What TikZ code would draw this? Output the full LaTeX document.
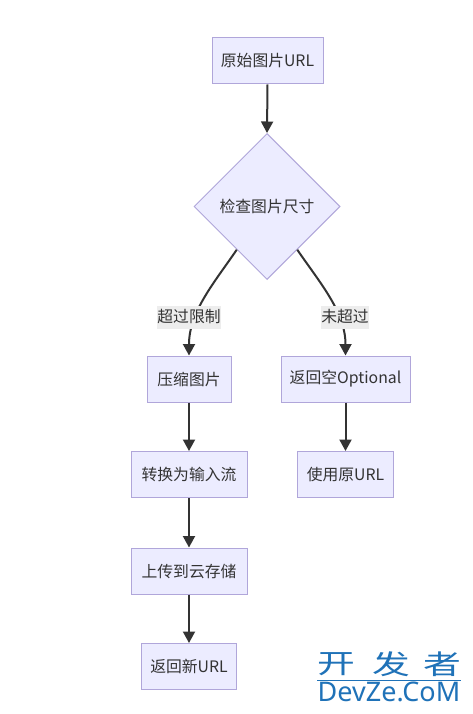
\documentclass[tikz,border=0pt]{standalone}
\usepackage{fontspec}
\setmainfont{Noto Sans CJK SC}
\newfontfamily\wmfont{Noto Sans}
\usetikzlibrary{shapes.geometric,arrows.meta}
\definecolor{nodefill}{HTML}{ECECFF}
\definecolor{nodeline}{HTML}{B0A6DA}
\definecolor{ink}{HTML}{333333}
\definecolor{labelbg}{HTML}{EDEDED}
\definecolor{wmblue}{HTML}{1F72B8}
\tikzset{
  flowbox/.style={draw=nodeline,fill=nodefill,line width=1pt,text=ink,inner sep=0pt,font=\fontsize{15.8}{17}\selectfont,minimum height=46pt},
  flowdia/.style={flowbox,shape=diamond,aspect=1,minimum width=146pt,minimum height=146pt},
  conn/.style={draw=ink,line width=2pt,-{Triangle[length=11.5pt,width=12pt]}},
  edgelabel/.style={fill=labelbg,text=ink,inner sep=0pt,minimum height=23pt,font=\fontsize{15.8}{17}\selectfont},
  wmcjk/.style={text=wmblue,inner sep=0pt,xscale=1.4,font=\fontsize{27}{29}\selectfont},
  wmlatin/.style={text=wmblue,inner sep=0pt,font=\wmfont\fontsize{27}{29}\selectfont},
}
\begin{document}
\begin{tikzpicture}[x=1pt,y=-1pt]
\useasboundingbox (0,0) rectangle (472,714);
\fill[white] (0,0) rectangle (472,714);
\node[flowbox,minimum width=111pt] (src) at (267.5,61) {原始图片URL};
\node[flowdia] (dia) at (267,206.5) {检查图片尺寸};
\node[flowbox,minimum width=84pt] (zip) at (189,379) {压缩图片};
\node[flowbox,minimum width=129pt] (opt) at (345.5,379) {返回空Optional};
\node[flowbox,minimum width=116pt] (stream) at (189,474.5) {转换为输入流};
\node[flowbox,minimum width=96pt] (orig) at (345.5,474.5) {使用原URL};
\node[flowbox,minimum width=116pt] (upload) at (189,571) {上传到云存储};
\node[flowbox,minimum width=95pt] (new) at (189,666.5) {返回新URL};
\draw[conn] (src.south) -- (dia.north);
\draw[conn] (dia.235) .. controls (214,283) and (189,312) .. (zip.north);
\draw[conn] (dia.305) .. controls (320,283) and (345.5,312) .. (opt.north);
\draw[conn] (zip.south) -- (stream.north);
\draw[conn] (stream.south) -- (upload.north);
\draw[conn] (upload.south) -- (new.north);
\draw[conn] (opt.south) -- (orig.north);
\node[edgelabel,minimum width=64pt] (lyes) at (189,317) {超过限制};
\node[edgelabel,minimum width=48pt] (lno) at (345,317) {未超过};
\node[wmcjk] (wm1) at (336.5,664) {开};
\node[wmcjk] (wm2) at (391,664) {发};
\node[wmcjk] (wm3) at (442,664) {者};
\node[wmlatin] (wm4) at (389,692) {DevZe.CoM};
\draw[wmblue,line width=0.8pt] (317,680) -- (461,680);
\end{tikzpicture}
\end{document}
